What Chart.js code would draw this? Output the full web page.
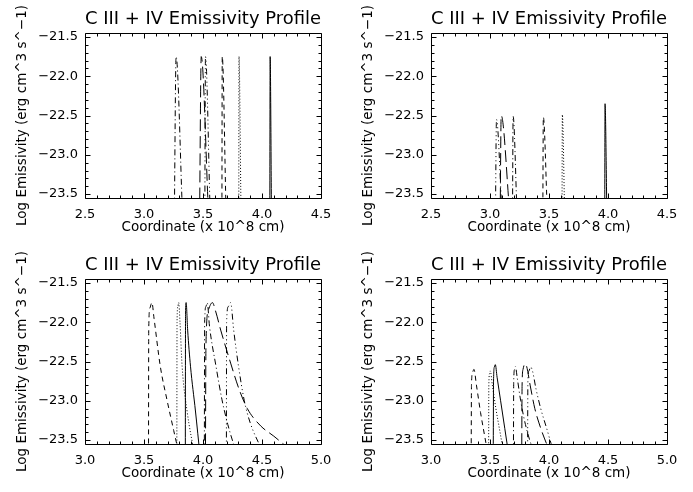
<!DOCTYPE html>
<html>
<head>
<meta charset="utf-8">
<title>C III + IV Emissivity Profile</title>
<script src="https://cdn.jsdelivr.net/npm/chart.js@4.4.1/dist/chart.umd.min.js"></script>
<style>
  body { margin: 0; background: #fff; }
  #wrap { position: relative; width: 693px; height: 492px; background: #fff; }
  #wrap canvas { position: absolute; }
</style>
</head>
<body>
<div id="wrap">
  <canvas id="c1" width="346" height="246" style="left:0;top:0"></canvas>
  <canvas id="c2" width="346" height="246" style="left:346px;top:0"></canvas>
  <canvas id="c3" width="346" height="246" style="left:0;top:246px"></canvas>
  <canvas id="c4" width="346" height="246" style="left:346px;top:246px"></canvas>
</div>
<script>
// text
var titleText = "C III + IV Emissivity Profile";
var xTitle = "Coordinate (x 10^8 cm)";
var yTitle = "Log Emissivity (erg cm^3 s^\u22121)";

// axes
var xRangeTop = [2.5, 4.5];
var xRangeBottom = [3.0, 5.0];
var xTicksTop = [2.5, 3.0, 3.5, 4.0, 4.5];
var xTicksBottom = [3.0, 3.5, 4.0, 4.5, 5.0];
var yRange = [-23.55, -21.45];
var yTicks = [-23.5, -23.0, -22.5, -22.0, -21.5];
var minorStep = 0.1;

// panel 1 (top left)
var p1SolidX = [4.066, 4.069, 4.080];
var p1SolidY = [-24, -21.75, -23.7];
var p1DotX = [3.803, 3.805, 3.822];
var p1DotY = [-24, -21.75, -23.7];
var p1DashX = [3.660, 3.663, 3.695];
var p1DashY = [-24, -21.75, -23.7];
var p1DashDotX = [3.256, 3.272, 3.325];
var p1DashDotY = [-24, -21.75, -23.7];
var p1Dash3DotX = [3.515, 3.521, 3.560];
var p1Dash3DotY = [-24, -21.75, -23.7];
var p1LongX = [3.470, 3.485, 3.545];
var p1LongY = [-24, -21.75, -23.7];

// panel 2 (top right)
var p2SolidX = [3.972, 3.975, 3.990];
var p2SolidY = [-24, -22.35, -23.7];
var p2DotX = [3.610, 3.613, 3.632];
var p2DotY = [-24, -22.49, -23.7];
var p2DashX = [3.447, 3.452, 3.485];
var p2DashY = [-24, -22.52, -23.7];
var p2DashDotX = [3.190, 3.196, 3.228];
var p2DashDotY = [-24, -22.51, -23.7];
var p2Dash3DotX = [3.045, 3.055, 3.100];
var p2Dash3DotY = [-24, -22.55, -23.7];
var p2LongX = [3.085, 3.095, 3.165];
var p2LongY = [-24, -22.50, -23.7];

// panel 3 (bottom left)
var p3DashX = [3.538, 3.540, 3.550, 3.567, 3.585, 3.638, 3.695, 3.752, 3.800];
var p3DashY = [-24, -22.10, -21.82, -21.75, -21.95, -22.56, -22.99, -23.38, -23.7];
var p3DotX = [3.778, 3.780, 3.787, 3.794, 3.805, 3.823, 3.865, 3.930];
var p3DotY = [-24, -22.00, -21.80, -21.75, -22.00, -22.56, -23.13, -23.7];
var p3SolidX = [3.850, 3.852, 3.857, 3.870, 3.894, 3.936, 3.975];
var p3SolidY = [-24, -21.90, -21.75, -22.10, -22.56, -23.13, -23.7];
var p3DashDotX = [4.011, 4.014, 4.025, 4.036, 4.055, 4.110, 4.160, 4.210, 4.290];
var p3DashDotY = [-24, -22.00, -21.80, -21.75, -22.05, -22.56, -22.98, -23.30, -23.7];
var p3LongX = [4.020, 4.025, 4.045, 4.080, 4.105, 4.150, 4.234, 4.305, 4.376, 4.489, 4.600, 4.720];
var p3LongY = [-24, -22.30, -21.85, -21.75, -21.85, -22.10, -22.52, -22.85, -23.10, -23.32, -23.45, -23.6];
var p3Dash3DotX = [4.198, 4.200, 4.215, 4.234, 4.260, 4.300, 4.350, 4.400, 4.490];
var p3Dash3DotY = [-24, -22.00, -21.80, -21.75, -22.10, -22.55, -23.00, -23.28, -23.6];

// panel 4 (bottom right)
var p4DashX = [3.340, 3.343, 3.352, 3.364, 3.385, 3.420, 3.455, 3.485];
var p4DashY = [-24, -22.80, -22.64, -22.60, -22.80, -23.15, -23.45, -23.7];
var p4DotX = [3.488, 3.490, 3.497, 3.502, 3.520, 3.550, 3.585, 3.620];
var p4DotY = [-24, -22.80, -22.65, -22.62, -22.80, -23.10, -23.40, -23.7];
var p4SolidX = [3.527, 3.530, 3.537, 3.545, 3.560, 3.590, 3.625, 3.660];
var p4SolidY = [-24, -22.75, -22.57, -22.54, -22.70, -23.00, -23.35, -23.7];
var p4DashDotX = [3.698, 3.701, 3.708, 3.715, 3.730, 3.760, 3.800, 3.860, 3.900];
var p4DashDotY = [-24, -22.75, -22.60, -22.56, -22.70, -23.00, -23.30, -23.60, -23.7];
var p4LongX = [3.768, 3.772, 3.780, 3.795, 3.810, 3.840, 3.880, 3.930, 3.980, 4.020];
var p4LongY = [-24, -22.80, -22.60, -22.53, -22.56, -22.80, -23.10, -23.35, -23.55, -23.7];
var p4Dash3DotX = [3.818, 3.821, 3.830, 3.845, 3.860, 3.890, 3.930, 3.980, 4.030, 4.060];
var p4Dash3DotY = [-24, -22.75, -22.62, -22.57, -22.62, -22.85, -23.10, -23.35, -23.60, -23.7];

// IDL-like line styles
var dashes = {
    solid: [],
    dot: [1, 2],
    dash: [5, 4],
    dashDot: [6, 3, 1, 3],
    dash3Dot: [6, 3, 1, 3, 1, 3, 1, 3],
    long: [12, 5]
};

Chart.defaults.font.family = "'DejaVu Sans', sans-serif";
Chart.defaults.color = '#000';

function fmt(v) {
    return Number(v).toFixed(1).replace('-', '\u2212');
}

// box round the plot with inward ticks on all four sides
var boxTicks = {
    id: 'boxTicks',
    afterDraw: function (chart) {
        var ctx = chart.ctx, a = chart.chartArea;
        var sx = chart.scales.x, sy = chart.scales.y;
        var l = Math.round(a.left) + 0.5, r = Math.round(a.right) + 0.5;
        var t = Math.round(a.top) + 0.5, b = Math.round(a.bottom) + 0.5;
        ctx.save();
        ctx.strokeStyle = '#000';
        ctx.lineWidth = 1;
        ctx.setLineDash([]);
        ctx.beginPath();
        ctx.rect(l, t, r - l, b - t);
        var k, v, p, len;
        for (k = Math.ceil(sx.min / minorStep - 1e-6); k <= Math.floor(sx.max / minorStep + 1e-6); k++) {
            v = k * minorStep;
            p = Math.round(sx.getPixelForValue(v)) + 0.5;
            len = (k % 5 === 0) ? 5 : 3;
            ctx.moveTo(p, b); ctx.lineTo(p, b - len);
            ctx.moveTo(p, t); ctx.lineTo(p, t + len);
        }
        for (k = Math.ceil(sy.min / minorStep - 1e-6); k <= Math.floor(sy.max / minorStep + 1e-6); k++) {
            v = k * minorStep;
            p = Math.round(sy.getPixelForValue(v)) + 0.5;
            len = (Math.abs(k) % 5 === 0) ? 5 : 3;
            ctx.moveTo(l, p); ctx.lineTo(l + len, p);
            ctx.moveTo(r, p); ctx.lineTo(r - len, p);
        }
        ctx.stroke();
        ctx.restore();
    }
};

function line(xs, ys, style) {
    return {
        data: xs.map(function (x, i) { return {x: x, y: ys[i]}; }),
        borderColor: '#000',
        borderWidth: 1,
        borderDash: dashes[style],
        pointRadius: 0,
        fill: false,
        cubicInterpolationMode: 'monotone'
    };
}

function makeChart(id, xRange, xTicks, datasets) {
    return new Chart(document.getElementById(id), {
        type: 'line',
        data: {datasets: datasets},
        options: {
            responsive: false,
            animation: false,
            events: [],
            layout: {padding: {left: 0, right: 25, top: 0, bottom: 0}},
            plugins: {
                legend: {display: false},
                tooltip: {enabled: false},
                title: {
                    display: true,
                    text: titleText,
                    fullSize: false,
                    color: '#000',
                    font: {size: 18.5, weight: 'normal', lineHeight: 1.2},
                    padding: {top: 8, bottom: 2.8}
                }
            },
            scales: {
                x: {
                    type: 'linear',
                    min: xRange[0],
                    max: xRange[1],
                    grid: {display: false, drawTicks: false},
                    border: {display: false},
                    afterBuildTicks: function (s) {
                        s.ticks = xTicks.map(function (v) { return {value: v}; });
                    },
                    afterFit: function (s) { s.height = 48; },
                    ticks: {padding: 9, font: {size: 13}, color: '#000', maxRotation: 0, autoSkip: false, callback: fmt},
                    title: {display: true, text: xTitle, color: '#000', font: {size: 13.5}, padding: {top: 0, bottom: 10}}
                },
                y: {
                    type: 'linear',
                    min: yRange[0],
                    max: yRange[1],
                    grid: {display: false, drawTicks: false},
                    border: {display: false},
                    afterBuildTicks: function (s) {
                        s.ticks = yTicks.map(function (v) { return {value: v}; });
                    },
                    afterFit: function (s) { s.width = 85; },
                    ticks: {padding: 7, font: {size: 13}, color: '#000', autoSkip: false, callback: fmt},
                    title: {display: true, text: yTitle, color: '#000', font: {size: 13.5}, padding: {top: 14, bottom: 0}}
                }
            }
        },
        plugins: [boxTicks]
    });
}

makeChart('c1', xRangeTop, xTicksTop, [
    line(p1SolidX, p1SolidY, 'solid'),
    line(p1DotX, p1DotY, 'dot'),
    line(p1DashX, p1DashY, 'dash'),
    line(p1DashDotX, p1DashDotY, 'dashDot'),
    line(p1Dash3DotX, p1Dash3DotY, 'dash3Dot'),
    line(p1LongX, p1LongY, 'long')
]);
makeChart('c2', xRangeTop, xTicksTop, [
    line(p2SolidX, p2SolidY, 'solid'),
    line(p2DotX, p2DotY, 'dot'),
    line(p2DashX, p2DashY, 'dash'),
    line(p2DashDotX, p2DashDotY, 'dashDot'),
    line(p2Dash3DotX, p2Dash3DotY, 'dash3Dot'),
    line(p2LongX, p2LongY, 'long')
]);
makeChart('c3', xRangeBottom, xTicksBottom, [
    line(p3SolidX, p3SolidY, 'solid'),
    line(p3DotX, p3DotY, 'dot'),
    line(p3DashX, p3DashY, 'dash'),
    line(p3DashDotX, p3DashDotY, 'dashDot'),
    line(p3Dash3DotX, p3Dash3DotY, 'dash3Dot'),
    line(p3LongX, p3LongY, 'long')
]);
makeChart('c4', xRangeBottom, xTicksBottom, [
    line(p4SolidX, p4SolidY, 'solid'),
    line(p4DotX, p4DotY, 'dot'),
    line(p4DashX, p4DashY, 'dash'),
    line(p4DashDotX, p4DashDotY, 'dashDot'),
    line(p4Dash3DotX, p4Dash3DotY, 'dash3Dot'),
    line(p4LongX, p4LongY, 'long')
]);
</script>
</body>
</html>
